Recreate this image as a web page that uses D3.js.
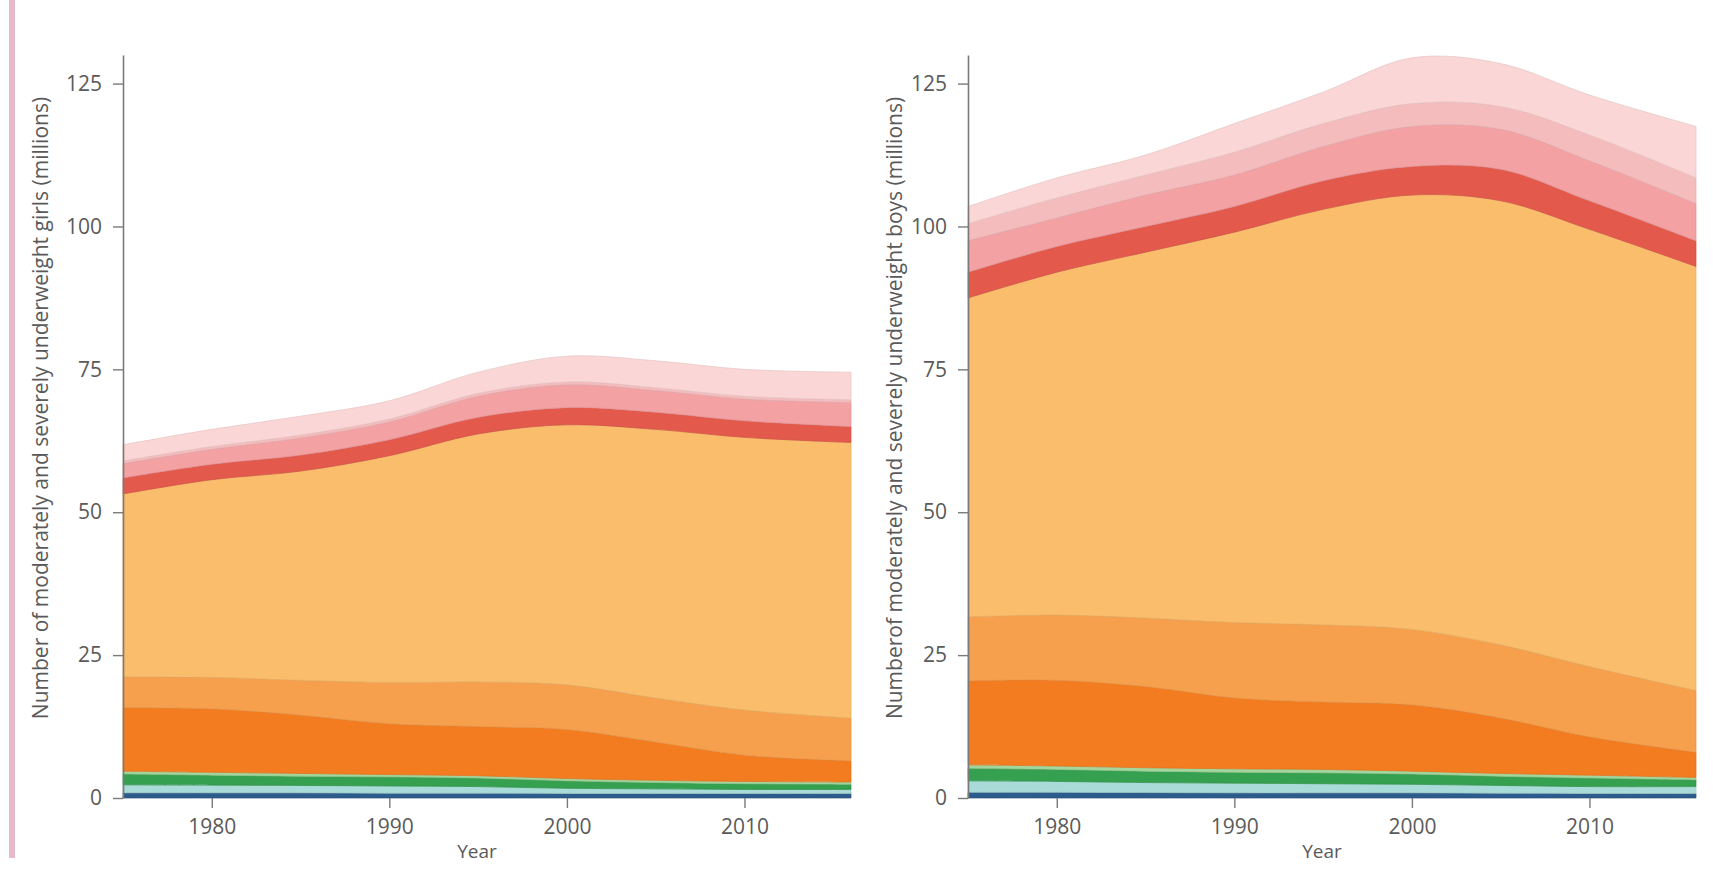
<!DOCTYPE html>
<html>
<head>
<meta charset="utf-8">
<script src="https://d3js.org/d3.v7.min.js"></script>
<style>
  body { margin: 0; background: #fff; }
  .chart text { font-family: "Open Sans", "DejaVu Sans", sans-serif; }
</style>
</head>
<body>
<div class="chart"></div>
<script>
// Data (millions), one row per stacked layer, bottom to top
//= ================================
var years = [1975, 1980, 1985, 1990, 1995, 2000, 2005, 2010, 2016];

var layerNames = ["darkBlue", "cyan", "green", "lightGreen", "darkOrange",
  "midOrange", "lightOrange", "red", "pink", "lightPink", "palePink"];

var layerColors = ["#2d5b8b", "#a9dbd8", "#35a04f", "#a3d69c", "#f47c20",
  "#f6a04d", "#f9bd6c", "#e35a4c", "#f3a1a3", "#f5bcbd", "#fad6d6"];

var girlsLayers = [
  [0.9, 0.9, 0.9, 0.85, 0.85, 0.8, 0.8, 0.8, 0.8],
  [1.4, 1.35, 1.3, 1.25, 1.15, 0.9, 0.8, 0.7, 0.7],
  [1.9, 1.75, 1.6, 1.6, 1.5, 1.3, 1.1, 1.0, 0.9],
  [0.5, 0.5, 0.5, 0.4, 0.4, 0.4, 0.4, 0.4, 0.4],
  [11.1, 11.1, 10.2, 8.9, 8.6, 8.6, 6.7, 4.6, 3.7],
  [5.4, 5.5, 6.1, 7.2, 7.8, 7.8, 7.7, 7.9, 7.5],
  [32.0, 34.6, 36.6, 39.7, 43.4, 45.5, 47.0, 47.7, 48.2],
  [2.8, 2.7, 2.8, 2.8, 2.9, 3.0, 3.0, 2.9, 2.8],
  [2.5, 2.6, 3.0, 3.1, 3.7, 4.0, 3.8, 3.8, 4.2],
  [0.5, 0.5, 0.5, 0.5, 0.5, 0.5, 0.5, 0.5, 0.5],
  [2.8, 3.0, 3.3, 3.2, 3.7, 4.5, 4.7, 4.7, 4.8]
];

var boysLayers = [
  [1.0, 1.0, 0.95, 0.9, 0.9, 0.9, 0.85, 0.8, 0.8],
  [2.0, 1.9, 1.75, 1.7, 1.6, 1.5, 1.35, 1.2, 1.2],
  [2.2, 2.1, 2.0, 1.9, 1.9, 1.8, 1.6, 1.5, 1.2],
  [0.6, 0.6, 0.6, 0.6, 0.6, 0.5, 0.5, 0.5, 0.4],
  [14.7, 15.0, 14.2, 12.4, 11.8, 11.6, 9.7, 6.7, 4.4],
  [11.2, 11.4, 12.0, 13.2, 13.5, 13.2, 12.8, 12.3, 10.8],
  [55.8, 60.0, 64.0, 68.3, 72.7, 76.0, 77.7, 76.5, 74.2],
  [4.5, 4.5, 4.5, 4.5, 5.0, 5.0, 5.5, 5.0, 4.5],
  [5.5, 5.0, 5.5, 5.5, 6.0, 7.0, 7.0, 7.0, 6.5],
  [3.0, 3.5, 3.5, 4.0, 4.0, 4.0, 4.0, 4.5, 4.5],
  [3.0, 3.5, 3.5, 5.0, 5.5, 8.0, 7.5, 7.0, 9.0]
];

var yTicks = [0, 25, 50, 75, 100, 125];
var xTicks = [1980, 1990, 2000, 2010];

// Step 0: Set up our chart
//= ================================
var svgWidth = 1713;
var svgHeight = 876;

var baseY = 798;
var topY = 55;
var plotWidth = 728;

var svg = d3
  .select(".chart")
  .append("svg")
  .attr("width", svgWidth)
  .attr("height", svgHeight);

// pink rule on the left
svg.append("rect")
  .attr("x", 9).attr("y", 0)
  .attr("width", 6).attr("height", 858)
  .attr("fill", "#e8b9c8");

function drawPanel(left, layers, title, titleX) {
  var chart = svg.append("g");

  var xScale = d3.scaleLinear().domain([1975, 2016]).range([left, left + plotWidth]);
  var yScale = d3.scaleLinear().domain([0, 130]).range([baseY, topY]);

  var rows = years.map(function(yr, i) {
    var row = { year: yr };
    layerNames.forEach(function(name, j) {
      row[name] = layers[j][i];
    });
    return row;
  });

  var stacked = d3.stack().keys(layerNames)(rows);

  var area = d3.area()
    .x(function(d) { return xScale(d.data.year); })
    .y0(function(d) { return yScale(d[0]); })
    .y1(function(d) { return yScale(d[1]); })
    .curve(d3.curveCatmullRom.alpha(0.5));

  chart.selectAll(".layer")
    .data(stacked)
    .enter()
    .append("path")
    .attr("class", "layer")
    .attr("d", area)
    .attr("fill", function(d, i) { return layerColors[i]; })
    .attr("stroke", function(d, i) { return d3.color(layerColors[i]).darker(0.25); })
    .attr("stroke-width", 0.7);

  // y axis
  var leftAxis = d3.axisLeft(yScale)
    .tickValues(yTicks)
    .tickSizeInner(10)
    .tickSizeOuter(0)
    .tickPadding(11);

  var yAxisG = chart.append("g")
    .attr("transform", "translate(" + left + ",0)")
    .call(leftAxis);
  yAxisG.select(".domain").attr("stroke", "#7a7a7a").attr("stroke-width", 1.6);
  yAxisG.selectAll(".tick line").attr("stroke", "#7a7a7a").attr("stroke-width", 1.4);
  yAxisG.selectAll(".tick text").attr("fill", "#5a5a5a").style("font-size", "21px");

  // x axis
  var bottomAxis = d3.axisBottom(xScale)
    .tickValues(xTicks)
    .tickFormat(d3.format("d"))
    .tickSize(10)
    .tickPadding(11);

  var xAxisG = chart.append("g")
    .attr("transform", "translate(0," + baseY + ")")
    .call(bottomAxis);
  xAxisG.select(".domain").remove();
  xAxisG.selectAll(".tick line").attr("stroke", "#7a7a7a").attr("stroke-width", 1.4);
  xAxisG.selectAll(".tick text").attr("fill", "#5a5a5a").style("font-size", "21px");

  chart.append("text")
    .attr("x", left + 354)
    .attr("y", 858)
    .attr("text-anchor", "middle")
    .attr("fill", "#5a5a5a")
    .style("font-size", "19px")
    .text("Year");

  chart.append("text")
    .attr("transform", "translate(" + titleX + ",408) rotate(-90)")
    .attr("text-anchor", "middle")
    .attr("dy", "0.35em")
    .attr("fill", "#5a5a5a")
    .style("font-size", "21px")
    .text(title);
}

drawPanel(123, girlsLayers, "Number of moderately and severely underweight girls (millions)", 41);
drawPanel(968, boysLayers, "Numberof moderately and severely underweight boys (millions)", 895);
</script>
</body>
</html>
